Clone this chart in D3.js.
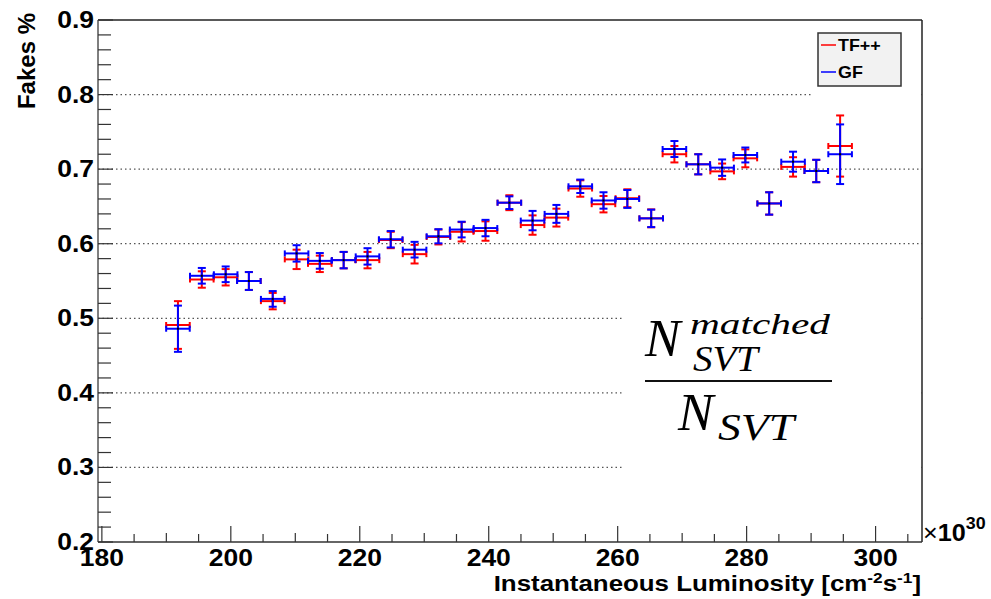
<!DOCTYPE html>
<html><head><meta charset="utf-8">
<script src="https://cdn.jsdelivr.net/npm/d3@7"></script>
<style>body{margin:0;background:#fff} svg{display:block}</style>
</head><body><svg id="c" width="991" height="599"></svg>
<script>
// ---- data ----
const lumi = [191.8,195.5,199.2,202.8,206.5,210.2,213.8,217.5,221.2,224.8,228.5,232.2,235.8,239.5,243.2,246.8,250.5,254.2,257.8,261.5,265.2,268.8,272.5,276.2,279.8,283.5,287.2,290.8,294.5];
const binHalfWidth = 1.83;
const tfVal = [0.491,0.552,0.555,0.550,0.523,0.579,0.573,0.578,0.578,0.605,0.586,0.609,0.616,0.617,0.655,0.625,0.635,0.674,0.653,0.661,0.634,0.720,0.7065,0.697,0.7145,0.654,0.703,0.6975,0.731];
const tfErr = [0.032,0.011,0.011,0.012,0.011,0.013,0.011,0.011,0.011,0.011,0.0125,0.010,0.013,0.013,0.010,0.013,0.012,0.011,0.011,0.012,0.012,0.011,0.0135,0.0105,0.012,0.015,0.013,0.015,0.041];
const gfVal = [0.486,0.557,0.559,0.550,0.526,0.587,0.577,0.578,0.583,0.606,0.592,0.610,0.619,0.621,0.655,0.631,0.640,0.677,0.658,0.660,0.634,0.727,0.7065,0.702,0.719,0.654,0.710,0.6975,0.720];
const gfErr = [0.031,0.0105,0.0105,0.012,0.0105,0.011,0.0105,0.011,0.011,0.011,0.0105,0.0095,0.0105,0.011,0.0085,0.013,0.012,0.009,0.011,0.012,0.0117,0.0107,0.0135,0.011,0.010,0.015,0.0134,0.015,0.040];
const seriesNames = ["TF++","GF"];
const seriesColors = ["#ff0000","#0000ff"];
const xTickLabels = [180,200,220,240,260,280,300];
const yTickLabels = [0.2,0.3,0.4,0.5,0.6,0.7,0.8,0.9];
const gridValues = [0.3,0.4,0.5,0.6,0.7,0.8];

// ---- layout ----
const svg = d3.select("#c");
const L = 98, R = 922, T = 20, B = 542;
const SX = 1.15; // horizontal text stretch of the reference
const x = d3.scaleLinear().domain([179.4, 307.2]).range([L, R]);
const y = d3.scaleLinear().domain([0.2, 0.9]).range([B, T]);

function stext(g, px, py, txt, opts) {
  const t = g.append("text")
    .attr("transform", `translate(${px},${py}) scale(${opts.sx||SX},1)`)
    .attr("font-family", opts.family || "'Liberation Sans', Arial, Helvetica, sans-serif")
    .attr("font-weight", opts.weight || "bold")
    .attr("font-size", opts.size)
    .attr("text-anchor", opts.anchor || "start")
    .attr("fill", opts.fill || "#000");
  if (opts.italic) t.attr("font-style", "italic");
  if (txt !== null) t.text(txt);
  return t;
}

// grid
const grid = svg.append("g");
grid.selectAll("line").data(gridValues).join("line")
  .attr("x1", L).attr("x2", R)
  .attr("y1", d => y(d)).attr("y2", d => y(d))
  .attr("stroke", "#555").attr("stroke-width", 1.2)
  .attr("stroke-dasharray", "1.5,3");

// white overlays (pasted legend / formula images in the original)
svg.append("rect").attr("x", 812).attr("y", 24).attr("width", R - 813).attr("height", 76).attr("fill", "#fff");
svg.append("rect").attr("x", 622).attr("y", 290).attr("width", R - 623).attr("height", 210).attr("fill", "#fff");

// frame
svg.append("line").attr("x1", L).attr("x2", R).attr("y1", T).attr("y2", T).attr("stroke", "#222").attr("stroke-width", 1.5);
svg.append("line").attr("x1", R).attr("x2", R).attr("y1", T).attr("y2", B).attr("stroke", "#222").attr("stroke-width", 1.5);
svg.append("line").attr("x1", L).attr("x2", L).attr("y1", T).attr("y2", B).attr("stroke", "#555").attr("stroke-width", 1.5);
svg.append("line").attr("x1", L).attr("x2", R).attr("y1", B).attr("y2", B).attr("stroke", "#333").attr("stroke-width", 1.5);

// y ticks
const yMinor = d3.range(0.2, 0.9001, 0.02);
svg.append("g").selectAll("line").data(yMinor).join("line")
  .attr("x1", L).attr("x2", (d, i) => L + (i % 5 === 0 ? 15 : 13))
  .attr("y1", d => y(d)).attr("y2", d => y(d))
  .attr("stroke", "#333").attr("stroke-width", 1.2);
// x ticks
const xMinor = d3.range(180, 306, 5);
svg.append("g").selectAll("line").data(xMinor).join("line")
  .attr("x1", d => x(d)).attr("x2", d => x(d))
  .attr("y1", B).attr("y2", d => B - ((d - 180) % 20 === 0 ? 16 : ((d % 10) === 0 ? 9 : 8)))
  .attr("stroke", "#333").attr("stroke-width", 1.2);

// tick labels
const yl = svg.append("g");
yTickLabels.forEach(v => stext(yl, 94, y(v) + 8, v.toFixed(1), {size: 23, anchor: "end"}));
const xl = svg.append("g");
xTickLabels.forEach(v => stext(xl, x(v), 566, String(v), {size: 23, anchor: "middle"}));

// x10^30
const ex = stext(svg, 923, 541, null, {size: 24, weight: "normal", sx: 1.05});
ex.append("tspan").text("\u00d7");
ex.append("tspan").attr("font-weight", "bold").text("10");
ex.append("tspan").attr("font-weight", "bold").attr("font-size", 17).attr("dy", -12).text("30");

// axis titles
const xt = stext(svg, 921, 591, null, {size: 22.5, anchor: "end"});
xt.append("tspan").text("Instantaneous Luminosity [cm");
xt.append("tspan").attr("font-size", 15).attr("dy", -8).text("-2");
xt.append("tspan").attr("dy", 8).text("s");
xt.append("tspan").attr("font-size", 15).attr("dy", -8).text("-1");
xt.append("tspan").attr("dy", 8).text("]");

svg.append("text")
  .attr("transform", "translate(35,13) rotate(-90)")
  .attr("font-family", "'Liberation Sans', Arial, sans-serif")
  .attr("font-weight", "bold").attr("font-size", 24)
  .attr("text-anchor", "end").text("Fakes %");

// data
const series = [
  {vals: tfVal, errs: tfErr, color: seriesColors[0]},
  {vals: gfVal, errs: gfErr, color: seriesColors[1]}
];
series.forEach(s => {
  const g = svg.append("g").attr("stroke", s.color).attr("stroke-width", 2).attr("fill", "none");
  const pts = lumi.map((l, i) => ({l, v: s.vals[i], e: s.errs[i]}));
  g.selectAll(".h").data(pts).join("line")
    .attr("x1", d => x(d.l - binHalfWidth)).attr("x2", d => x(d.l + binHalfWidth))
    .attr("y1", d => y(d.v)).attr("y2", d => y(d.v));
  g.selectAll(".v").data(pts).join("line")
    .attr("x1", d => x(d.l)).attr("x2", d => x(d.l))
    .attr("y1", d => y(d.v - d.e)).attr("y2", d => y(d.v + d.e));
  [-1, 1].forEach(sg => {
    g.selectAll(".c" + sg).data(pts).join("line")
      .attr("x1", d => x(d.l) - 4).attr("x2", d => x(d.l) + 4)
      .attr("y1", d => y(d.v + sg * d.e)).attr("y2", d => y(d.v + sg * d.e));
    g.selectAll(".hc" + sg).data(pts).join("line")
      .attr("x1", d => x(d.l + sg * binHalfWidth)).attr("x2", d => x(d.l + sg * binHalfWidth))
      .attr("y1", d => y(d.v) - 3).attr("y2", d => y(d.v) + 3);
  });
  svg.append("g").selectAll("rect").data(pts).join("rect")
    .attr("x", d => x(d.l) - 1).attr("y", d => y(d.v) - 1)
    .attr("width", 2).attr("height", 2).attr("fill", "#000");
});

// legend
const lg = svg.append("g");
lg.append("rect").attr("x", 818).attr("y", 33).attr("width", 83).attr("height", 53)
  .attr("fill", "#f2f2f2").attr("stroke", "#333").attr("stroke-width", 1.5);
seriesNames.forEach((n, i) => {
  const yy = 45 + i * 27;
  lg.append("line").attr("x1", 821).attr("x2", 836).attr("y1", yy).attr("y2", yy)
    .attr("stroke", seriesColors[i]).attr("stroke-width", 1.5);
  stext(lg, 838, yy + 6, n, {size: 16, sx: 1.12});
});

// formula
const ff = "'Liberation Serif', 'Times New Roman', serif";
const fm = svg.append("g").attr("font-family", ff).attr("font-style", "italic").attr("fill", "#000");
fm.append("text").attr("x", 645).attr("y", 356).attr("font-size", 53).text("N");
fm.append("text").attr("x", 690).attr("y", 334).attr("font-size", 30)
  .attr("textLength", 140).attr("lengthAdjust", "spacingAndGlyphs").text("matched");
fm.append("text").attr("x", 693).attr("y", 371).attr("font-size", 36)
  .attr("textLength", 65).attr("lengthAdjust", "spacingAndGlyphs").text("SVT");
fm.append("line").attr("x1", 645).attr("x2", 832).attr("y1", 381).attr("y2", 381)
  .attr("stroke", "#111").attr("stroke-width", 2);
fm.append("text").attr("x", 678).attr("y", 430).attr("font-size", 53).text("N");
fm.append("text").attr("x", 718).attr("y", 440).attr("font-size", 38)
  .attr("textLength", 76).attr("lengthAdjust", "spacingAndGlyphs").text("SVT");
</script>
</body></html>
